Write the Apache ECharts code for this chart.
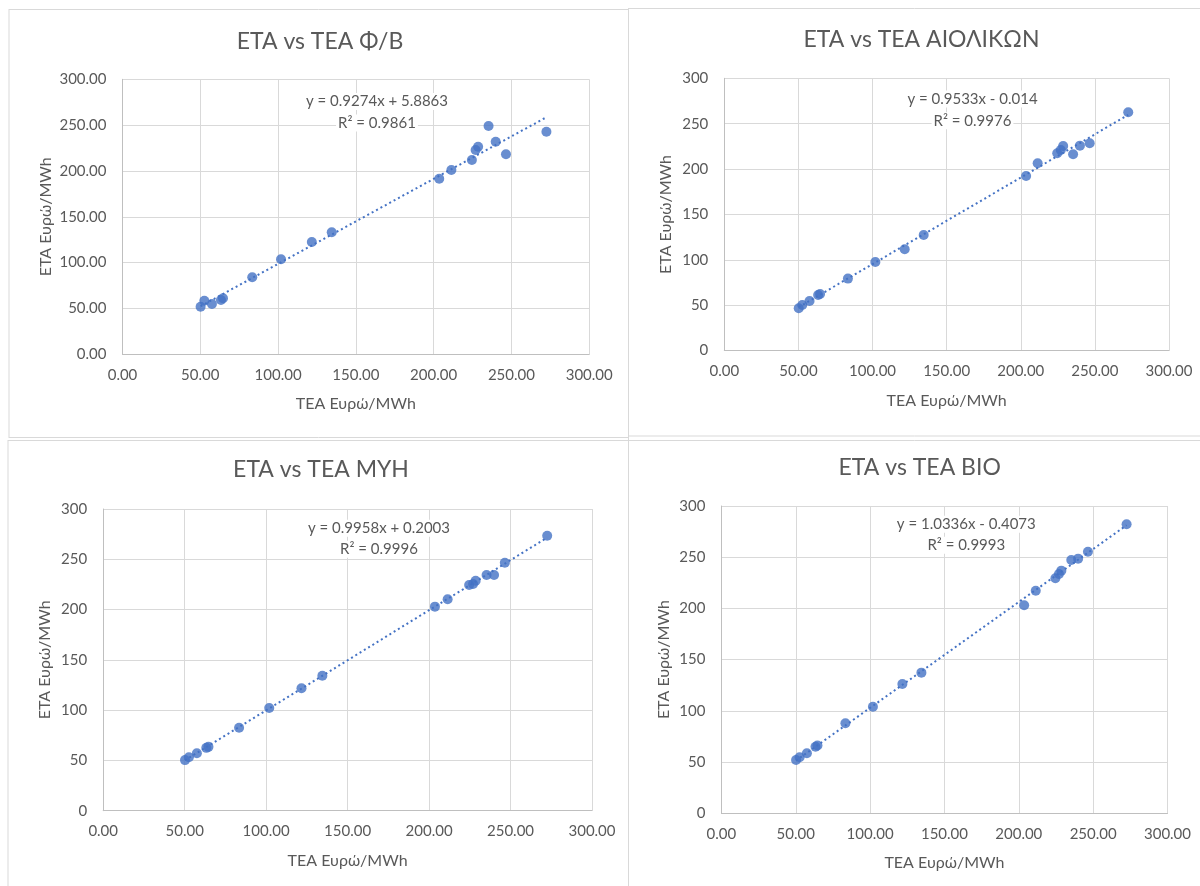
<!DOCTYPE html>
<html><head><meta charset="utf-8">
<script src="https://cdn.jsdelivr.net/npm/echarts@6/dist/echarts.min.js"></script>
<style>html,body{margin:0;padding:0;background:#fff}#c{width:1200px;height:886px}</style>
</head><body><div id="c"></div>
<script>
// TEA values (x) shared by all four panels
const tea = [50.2, 52.6, 57.5, 63.3, 64.6, 83.4, 101.9, 121.7, 134.5, 203.6, 211.4, 224.6, 227.0, 228.6, 235.3, 239.9, 246.5, 272.5];
// ETA values (y) per technology
const etaPV   = [51.9, 58.5, 54.9, 59.2, 61.1, 84.0, 103.6, 122.5, 133.1, 191.6, 201.1, 212.0, 222.9, 226.5, 249.0, 231.9, 218.2, 242.8];
const etaWind = [46.7, 50.3, 54.7, 61.3, 62.3, 79.3, 97.7, 111.7, 127.4, 192.4, 206.4, 217.4, 221.0, 225.4, 216.3, 225.8, 228.4, 262.5];
const etaHydro= [50.3, 53.1, 57.1, 62.5, 63.5, 82.5, 102.1, 121.7, 134.2, 202.9, 210.2, 224.4, 225.4, 228.7, 234.4, 234.4, 246.6, 273.4];
const etaBio  = [52.0, 54.7, 58.6, 65.0, 66.2, 87.9, 104.1, 126.2, 137.3, 203.1, 217.3, 229.4, 233.6, 236.9, 247.3, 248.6, 255.4, 282.1];
const titles = ['ETA vs TEA Φ/B', 'ETA vs TEA ΑΙΟΛΙΚΩΝ', 'ETA vs TEA ΜΥΗ', 'ETA vs TEA ΒΙΟ'];
const slopes = [0.9274, 0.9533, 0.9958, 1.0336];
const intercepts = [5.8863, -0.014, 0.2003, -0.4073];
const eqTexts = ['y = 0.9274x + 5.8863', 'y = 0.9533x - 0.014', 'y = 0.9958x + 0.2003', 'y = 1.0336x - 0.4073'];
const r2Texts = ['R² = 0.9861', 'R² = 0.9976', 'R² = 0.9996', 'R² = 0.9993'];
const yDecimals = [2, 0, 0, 0];
const xAxisName = 'TEA Ευρώ/MWh';
const yAxisName = 'ETA Ευρώ/MWh';
const axisMin = 0, axisMax = 300, axisStep = 50;

const etas = [etaPV, etaWind, etaHydro, etaBio];

// layout (pixels)
const grids = [
  {left:122.5, top:79.3, width:466.7, height:275},
  {left:724.3, top:78.3, width:444.7, height:272.3},
  {left:103.2, top:509, width:488.8, height:301.7},
  {left:721.4, top:506, width:446.1, height:307.3}
];
const titlePos = [[320,42],[921.5,39.5],[321,470],[919.7,467.3]];
const eqPos = [[377,101.5,123],[972.5,99,120.7],[379,528.3,549.3],[966.3,524.3,545.3]];
const yNameGap = [69, 50, 50, 50];

const FONT = 'Lato';
const TXT = '#595959';
const BLUE = '#4472C4';

const option = {
  backgroundColor:'#fff',
  animation:false,
  textStyle:{fontFamily:FONT},
  grid: grids.map(g => Object.assign({containLabel:false}, g)),
  xAxis: grids.map((g,i)=>({
    gridIndex:i, type:'value', min:axisMin, max:axisMax, interval:axisStep,
    name:xAxisName, nameLocation:'middle', nameGap:42,
    nameTextStyle:{color:TXT, fontSize:16, fontFamily:FONT},
    axisLine:{show:true, lineStyle:{color:'#bfbfbf', width:1}},
    axisTick:{show:false},
    axisLabel:{color:TXT, fontSize:15, margin:13, fontFamily:FONT, formatter:v=>v.toFixed(2)},
    splitLine:{show:true, lineStyle:{color:'#d9d9d9', width:1}}
  })),
  yAxis: grids.map((g,i)=>({
    gridIndex:i, type:'value', min:axisMin, max:axisMax, interval:axisStep,
    name:yAxisName, nameLocation:'middle', nameGap:yNameGap[i], nameRotate:90,
    nameTextStyle:{color:TXT, fontSize:16, fontFamily:FONT},
    axisLine:{show:true, lineStyle:{color:'#bfbfbf', width:1}},
    axisTick:{show:false},
    axisLabel:{color:TXT, fontSize:15, margin:16, fontFamily:FONT, formatter:v=>v.toFixed(yDecimals[i])},
    splitLine:{show:true, lineStyle:{color:'#d9d9d9', width:1}}
  })),
  series: [],
  graphic: []
};

etas.forEach((ys,i)=>{
  const xmin = Math.min(...tea), xmax = Math.max(...tea);
  option.series.push({
    type:'line', xAxisIndex:i, yAxisIndex:i, symbol:'none', silent:true, z:2,
    lineStyle:{color:BLUE, width:2, type:[2,3]},
    data:[[xmin, slopes[i]*xmin+intercepts[i]],[xmax, slopes[i]*xmax+intercepts[i]]]
  });
  option.series.push({
    type:'scatter', xAxisIndex:i, yAxisIndex:i, symbol:'circle', symbolSize:10, z:3,
    itemStyle:{color:BLUE},
    data: tea.map((x,k)=>[x, ys[k]])
  });
  option.graphic.push({type:'text', x:titlePos[i][0], y:titlePos[i][1],
    style:{text:titles[i], fill:TXT, font:'23px '+FONT, align:'center', verticalAlign:'middle'}});
  option.graphic.push({type:'text', x:eqPos[i][0], y:eqPos[i][1], z:10,
    style:{text:eqTexts[i], fill:TXT, font:'15px '+FONT, align:'center', verticalAlign:'middle',
      backgroundColor:'#fff', padding:[1,2]}});
  option.graphic.push({type:'text', x:eqPos[i][0], y:eqPos[i][2], z:10,
    style:{text:r2Texts[i], fill:TXT, font:'15px '+FONT, align:'center', verticalAlign:'middle',
      backgroundColor:'#fff', padding:[1,2]}});
});

// panel frames
const frameLines = [
  [9,9.5,628,9.5],[629,8.5,1200,8.5],
  [9,9,9,438],[628.5,8,628.5,886],[9,437.5,628,437.5],[629,436,1200,436],
  [8,440.5,628,440.5],[629,440.5,1200,440.5],[8,440,8,886]
];
frameLines.forEach(l=>option.graphic.push({type:'line', shape:{x1:l[0],y1:l[1],x2:l[2],y2:l[3]},
  style:{stroke:'#d9d9d9', lineWidth:1}, silent:true}));

const chart = echarts.init(document.getElementById('c'), null, {renderer:'canvas'});
chart.setOption(option);
</script></body></html>
